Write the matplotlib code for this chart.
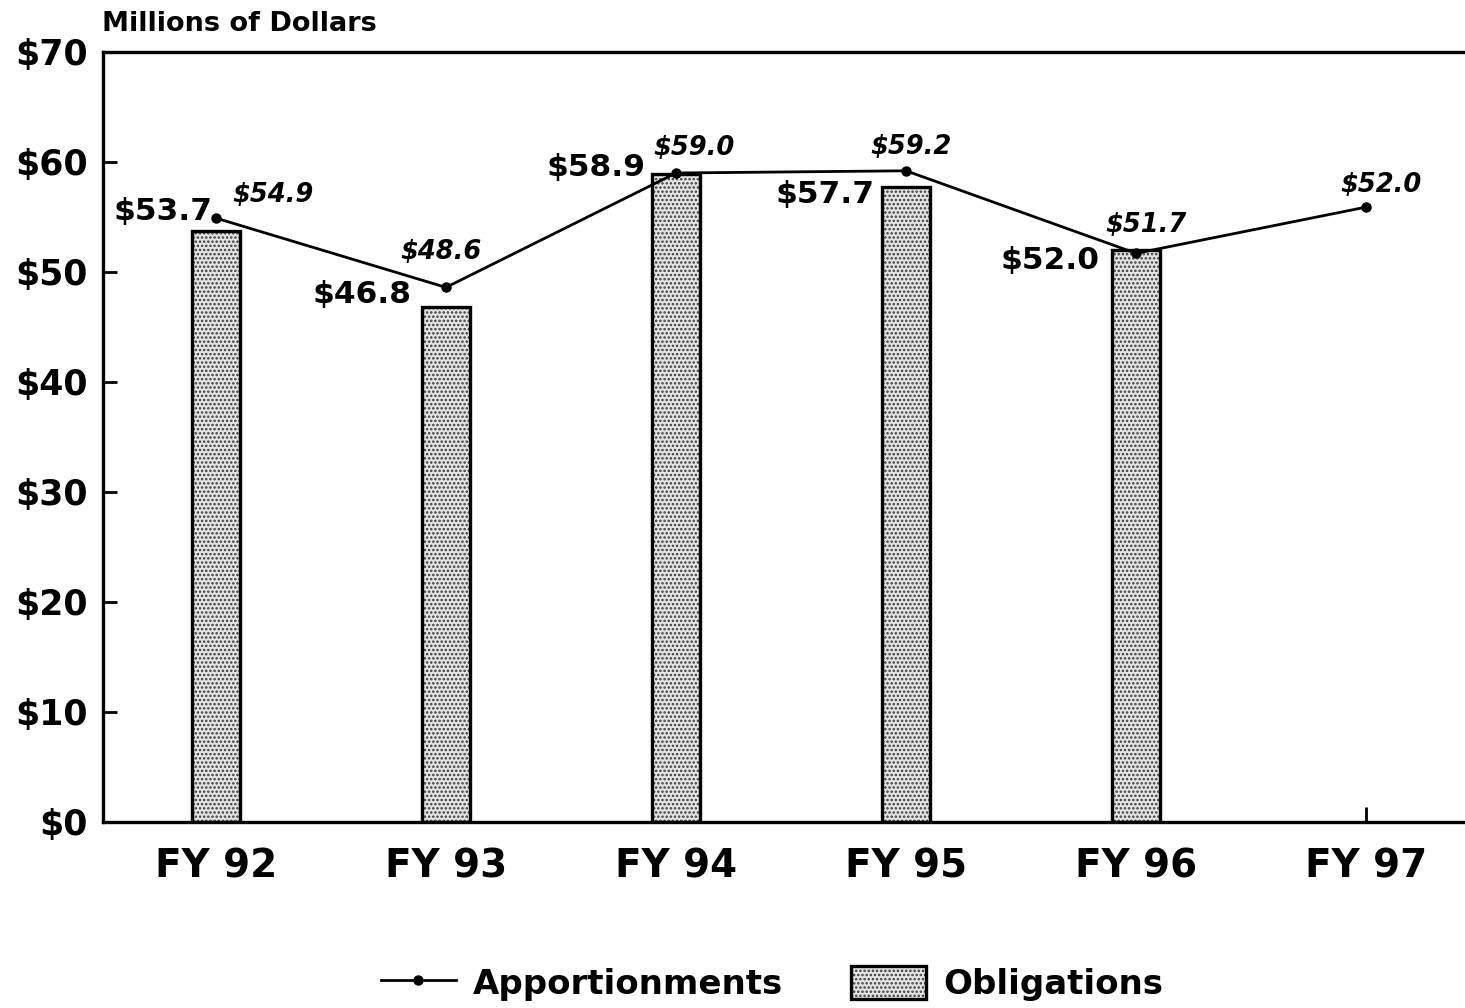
import matplotlib
matplotlib.use("Agg")
import matplotlib.pyplot as plt
from matplotlib.patches import Patch
from matplotlib.lines import Line2D
from matplotlib.legend_handler import HandlerTuple

plt.rcParams['font.family'] = ['DejaVu Sans']
plt.rcParams['font.weight'] = 'bold'
plt.rcParams['hatch.linewidth'] = 1.2

# ---- data ----
categories = ["FY 92", "FY 93", "FY 94", "FY 95", "FY 96", "FY 97"]
obligations = [53.7, 46.8, 58.9, 57.7, 52.0]
obligation_labels = ["$53.7", "$46.8", "$58.9", "$57.7", "$52.0"]
apportionments = [54.9, 48.6, 59.0, 59.2, 51.7, 55.9]
apportionment_labels = ["$54.9", "$48.6", "$59.0", "$59.2", "$51.7", "$52.0"]
yticks = [0, 10, 20, 30, 40, 50, 60, 70]
ytick_labels = ["$0", "$10", "$20", "$30", "$40", "$50", "$60", "$70"]

# ---- label offsets (pixels, x right / y up) ----
obl_off = [(-53, 20), (-84, 13), (-80, 7), (-81, -7), (-86, -11)]
app_off = [(57, 23), (-5, 35), (18, 25), (5, 24), (10, 28), (15, 22)]

W, H = 1465, 1008
fig = plt.figure(figsize=(W / 100, H / 100), dpi=100)
ax = fig.add_axes([103 / W, 1 - 822 / H, 1 - 103 / W, (822 - 52) / H])

x = list(range(len(categories)))
xo = x[:len(obligations)]

FACE = '#e4e4e4'
DOTS = '#3a3a3a'

# stipple bars
ax.bar(xo, obligations, width=0.205, color=FACE, edgecolor=DOTS,
       hatch='....', linewidth=0, zorder=2)
ax.bar(xo, obligations, width=0.205, fill=False, edgecolor='black',
       linewidth=2.4, zorder=3)

ax.plot(x, apportionments, color='black', linewidth=2.0, marker='o',
        markersize=6.5, zorder=4)

for xi, v, lab, (dx, dy) in zip(xo, obligations, obligation_labels, obl_off):
    ax.annotate(lab, (xi, v), xytext=(dx * 0.72, dy * 0.72),
                textcoords='offset points', ha='center', va='center',
                fontsize=22.5, fontweight='bold', zorder=5)

for xi, v, lab, (dx, dy) in zip(x, apportionments, apportionment_labels, app_off):
    ax.annotate(lab, (xi, v), xytext=(dx * 0.72, dy * 0.72),
                textcoords='offset points', ha='center', va='center',
                fontsize=18.5, fontweight='bold', fontstyle='italic', zorder=5)

ax.set_xlim(-0.491, 5.43)
ax.set_ylim(0, 70)
ax.set_yticks(yticks)
ax.set_yticklabels(ytick_labels)
ax.set_xticks(x)
ax.set_xticklabels(categories)

ax.tick_params(axis='y', direction='in', length=10, width=2, pad=11,
               labelsize=25, right=False)
ax.tick_params(axis='x', direction='in', length=11, width=2, pad=18,
               labelsize=28, top=False)
for lab in ax.get_xticklabels() + ax.get_yticklabels():
    lab.set_fontweight('bold')

for s in ['left', 'bottom', 'top']:
    ax.spines[s].set_linewidth(2.4)
ax.spines['right'].set_visible(False)

fig.text(102 / W, 1 - 31 / H, "Millions of Dollars", fontsize=19.5,
         fontweight='bold', ha='left', va='baseline')

# legend
h_line = Line2D([], [], color='black', linewidth=2.0, marker='o', markersize=6.5)
h_bar = (Patch(facecolor=FACE, edgecolor=DOTS, hatch='....', linewidth=0),
         Patch(fill=False, edgecolor='black', linewidth=2.4))
fig.legend([h_line, h_bar], ["Apportionments", "Obligations"],
           loc='center', bbox_to_anchor=(0.527, 0.024), ncol=2, frameon=False,
           handlelength=2.2, handleheight=1.1,
           handletextpad=0.5, columnspacing=2.0,
           prop={'weight': 'bold', 'size': 24.5},
           handler_map={tuple: HandlerTuple(ndivide=1, pad=0)})

fig.savefig("out.png", dpi=100)
